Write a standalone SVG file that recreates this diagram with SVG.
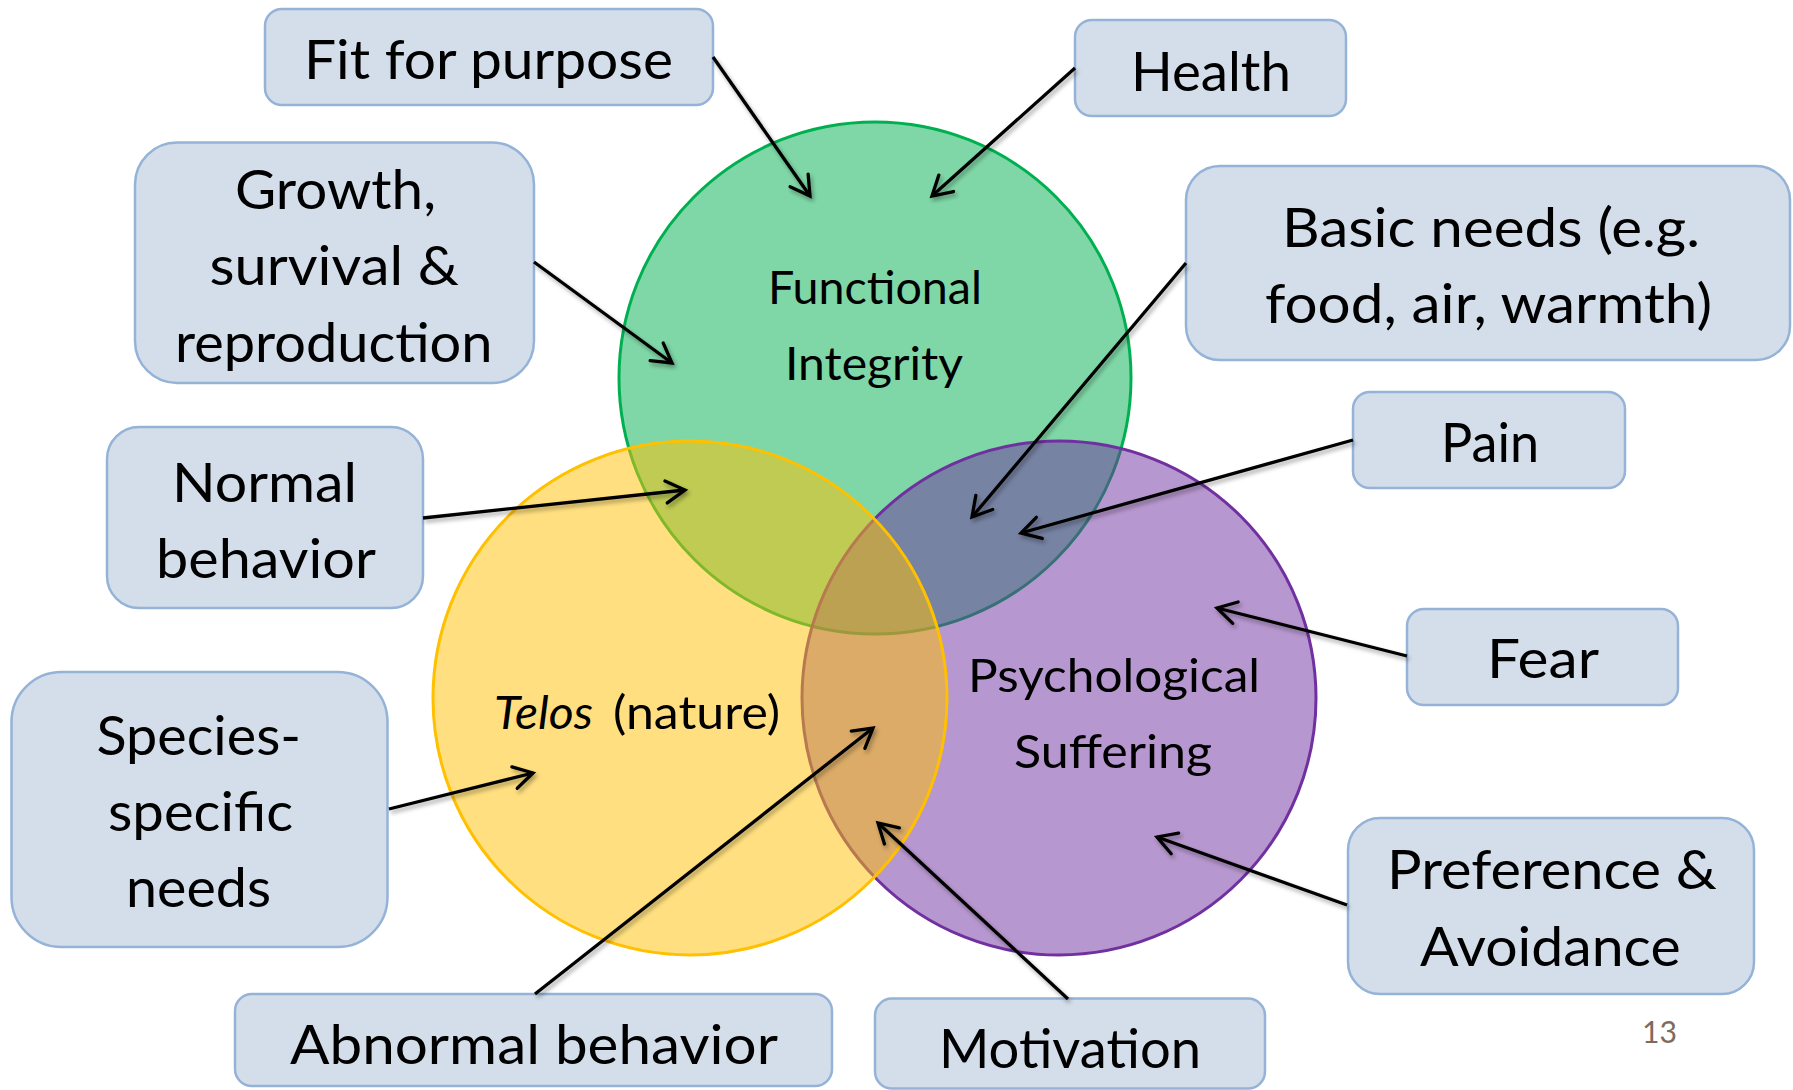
<svg xmlns="http://www.w3.org/2000/svg" width="1793" height="1090" viewBox="0 0 1793 1090">
<style>
.box{fill:#d3deea;stroke:#95b3d7;stroke-width:2.5}
.t{font-family:Lato,"Noto Sans",sans-serif;font-size:54.5px;fill:#000}
.c{font-family:Lato,"Noto Sans",sans-serif;font-size:46.5px;fill:#000}
.conn line{stroke:#000;stroke-width:3.3;fill:none;marker-end:url(#arr)}
.circ{fill-opacity:0.5;stroke-width:3}
</style>
<defs>
<marker id="arr" viewBox="-26 -15 30 30" refX="0" refY="0" markerWidth="30" markerHeight="30" markerUnits="userSpaceOnUse" orient="auto">
<path d="M-19,-11 L0,0 L-19,11" fill="none" stroke="#000" stroke-width="3.3" stroke-linejoin="miter" stroke-linecap="round"/>
</marker>
<filter id="sh" x="-20%" y="-20%" width="140%" height="140%">
<feDropShadow dx="2" dy="3" stdDeviation="2" flood-color="#000" flood-opacity="0.35"/>
</filter>
</defs>
<rect width="1793" height="1090" fill="#fff"/>
<g id="circles">
<g id="functional-integrity">
<circle class="circ" cx="875" cy="378" r="256" fill="#00b050" stroke="#00b050"/>
</g>
<g id="psychological-suffering">
<circle class="circ" cx="1059" cy="698" r="257" fill="#7030a0" stroke="#7030a0"/>
</g>
<g id="telos">
<circle class="circ" cx="690" cy="698" r="257" fill="#ffc000" stroke="#ffc000"/>
</g>
</g>
<g id="circle-labels">
<text class="c" x="768" y="304" textLength="214" lengthAdjust="spacingAndGlyphs">Functional</text>
<text class="c" x="785" y="380" textLength="178" lengthAdjust="spacingAndGlyphs">Integrity</text>
<text class="c" y="729"><tspan x="494" font-style="italic" textLength="99" lengthAdjust="spacingAndGlyphs">Telos</tspan><tspan x="613" textLength="167" lengthAdjust="spacingAndGlyphs">(nature)</tspan></text>
<text class="c" x="968" y="692" textLength="292" lengthAdjust="spacingAndGlyphs">Psychological</text>
<text class="c" x="1014" y="767.5" textLength="198" lengthAdjust="spacingAndGlyphs">Suffering</text>
</g>
<g id="node-fit">
<rect class="box" x="265" y="9" width="448" height="96" rx="17"/>
<text class="t" x="304" y="79" textLength="369" lengthAdjust="spacingAndGlyphs">Fit for purpose</text>
</g>
<g id="node-health">
<rect class="box" x="1075" y="20" width="271" height="96" rx="17"/>
<text class="t" x="1131" y="91" textLength="160" lengthAdjust="spacingAndGlyphs">Health</text>
</g>
<g id="node-growth">
<rect class="box" x="135" y="142.5" width="399" height="240.5" rx="42"/>
<text class="t" x="235" y="208.5" textLength="201" lengthAdjust="spacingAndGlyphs">Growth,</text>
<text class="t" x="209.5" y="285" textLength="249.5" lengthAdjust="spacingAndGlyphs">survival &amp;</text>
<text class="t" x="175" y="361.5" textLength="317.5" lengthAdjust="spacingAndGlyphs">reproduction</text>
</g>
<g id="node-basic">
<rect class="box" x="1186" y="166" width="604" height="194" rx="34"/>
<text class="t" x="1282" y="247" textLength="418" lengthAdjust="spacingAndGlyphs">Basic needs (e.g.</text>
<text class="t" x="1265" y="322.6" textLength="447" lengthAdjust="spacingAndGlyphs">food, air, warmth)</text>
</g>
<g id="node-normal">
<rect class="box" x="107" y="427" width="316" height="181" rx="32"/>
<text class="t" x="172" y="501.6" textLength="185" lengthAdjust="spacingAndGlyphs">Normal</text>
<text class="t" x="156" y="578" textLength="220" lengthAdjust="spacingAndGlyphs">behavior</text>
</g>
<g id="node-pain">
<rect class="box" x="1353" y="392" width="272" height="96" rx="17"/>
<text class="t" x="1441" y="461.6" textLength="98" lengthAdjust="spacingAndGlyphs">Pain</text>
</g>
<g id="node-fear">
<rect class="box" x="1407" y="609" width="271" height="96" rx="17"/>
<text class="t" x="1487" y="678" textLength="112" lengthAdjust="spacingAndGlyphs">Fear</text>
</g>
<g id="node-species">
<rect class="box" x="11.5" y="672" width="376" height="275" rx="50"/>
<text class="t" x="96.4" y="755.3" textLength="204.6" lengthAdjust="spacingAndGlyphs">Species-</text>
<text class="t" x="108" y="830.7" textLength="185" lengthAdjust="spacingAndGlyphs">specific</text>
<text class="t" x="126" y="907" textLength="145" lengthAdjust="spacingAndGlyphs">needs</text>
</g>
<g id="node-preference">
<rect class="box" x="1348" y="818" width="406" height="176" rx="32"/>
<text class="t" x="1387" y="889" textLength="330" lengthAdjust="spacingAndGlyphs">Preference &amp;</text>
<text class="t" x="1420" y="965.6" textLength="260.6" lengthAdjust="spacingAndGlyphs">Avoidance</text>
</g>
<g id="node-abnormal">
<rect class="box" x="235" y="994" width="597" height="92" rx="17"/>
<text class="t" x="290" y="1064" textLength="488" lengthAdjust="spacingAndGlyphs">Abnormal behavior</text>
</g>
<g id="node-motivation">
<rect class="box" x="875" y="998.6" width="390" height="90" rx="17"/>
<text class="t" x="939" y="1068" textLength="262" lengthAdjust="spacingAndGlyphs">Motivation</text>
</g>
<g id="connectors" class="conn" filter="url(#sh)">
<line x1="713" y1="57" x2="810" y2="196"/>
<line x1="1075" y1="68" x2="932" y2="196"/>
<line x1="534" y1="262" x2="672" y2="363"/>
<line x1="1186" y1="263" x2="972" y2="517"/>
<line x1="423" y1="518" x2="685" y2="490"/>
<line x1="1353" y1="440" x2="1021" y2="533"/>
<line x1="1407" y1="656" x2="1217" y2="608"/>
<line x1="389" y1="809" x2="533" y2="773"/>
<line x1="1347" y1="905" x2="1157" y2="837"/>
<line x1="535" y1="994" x2="873" y2="728"/>
<line x1="1068" y1="999" x2="878" y2="823"/>
</g>
<g id="page-number">
<text x="1642" y="1042.7" font-family="Lato,'Noto Sans',sans-serif" font-size="31.5" fill="#7f6a5e" textLength="35" lengthAdjust="spacingAndGlyphs">13</text>
</g>
</svg>
